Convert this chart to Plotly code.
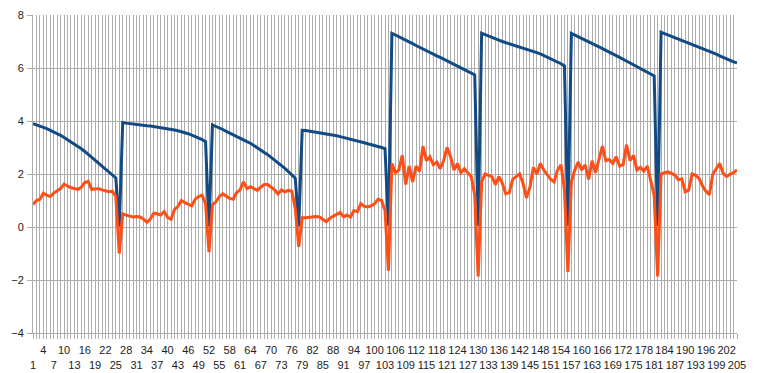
import plotly.graph_objects as go

# Categories 1..205
categories = list(range(1, 206))

# Tick labels: every 3rd category, alternating two rows (bottom row: 1,7,13...; top row: 4,10,16...)
label_bottom_row = list(range(1, 206, 6))
label_top_row = list(range(4, 206, 6))

blue_values = [
    # 1-26
    3.90, 3.86, 3.81, 3.76, 3.71, 3.65, 3.60, 3.53, 3.46, 3.38,
    3.30, 3.22, 3.12, 3.04, 2.95, 2.85, 2.74, 2.64, 2.53, 2.42,
    2.32, 2.21, 2.10, 1.98, 1.85, 0.02,
    # 27-52
    3.94, 3.92, 3.90, 3.89, 3.87, 3.86, 3.84, 3.82, 3.81, 3.79,
    3.78, 3.76, 3.74, 3.72, 3.69, 3.66, 3.63, 3.60, 3.56, 3.52,
    3.47, 3.42, 3.37, 3.30, 3.22, 0.02,
    # 53-78
    3.85, 3.80, 3.74, 3.68, 3.61, 3.54, 3.47, 3.41, 3.35, 3.29,
    3.22, 3.16, 3.08, 3.00, 2.91, 2.82, 2.73, 2.63, 2.53, 2.43,
    2.33, 2.21, 2.09, 1.97, 1.84, 0.02,
    # 79-104
    3.65, 3.64, 3.62, 3.60, 3.58, 3.56, 3.54, 3.52, 3.50, 3.47,
    3.44, 3.41, 3.38, 3.35, 3.32, 3.28, 3.25, 3.21, 3.18, 3.14,
    3.11, 3.07, 3.03, 3.00, 2.96, 0.05,
    # 105-130
    7.31, 7.25, 7.18, 7.12, 7.05, 6.98, 6.92, 6.85, 6.78, 6.72,
    6.66, 6.59, 6.53, 6.46, 6.40, 6.33, 6.27, 6.20, 6.13, 6.07,
    6.00, 5.94, 5.87, 5.81, 5.74, 0.05,
    # 131-156
    7.31, 7.26, 7.20, 7.15, 7.10, 7.05, 7.00, 6.96, 6.92, 6.88,
    6.84, 6.80, 6.76, 6.72, 6.68, 6.63, 6.58, 6.53, 6.47, 6.42,
    6.36, 6.30, 6.23, 6.16, 6.08, 0.05,
    # 157-182
    7.31, 7.25, 7.18, 7.12, 7.05, 6.99, 6.92, 6.86, 6.80, 6.73,
    6.67, 6.60, 6.54, 6.47, 6.40, 6.33, 6.26, 6.19, 6.12, 6.05,
    5.98, 5.91, 5.84, 5.77, 5.70, 0.05,
    # 183-205
    7.35, 7.30, 7.25, 7.20, 7.15, 7.10, 7.05, 7.00, 6.95, 6.90,
    6.85, 6.80, 6.75, 6.70, 6.64, 6.58, 6.52, 6.46, 6.40, 6.34,
    6.28, 6.23, 6.20,
]

orange_values = [
    # 1-26
    0.85, 1.00, 1.05, 1.27, 1.20, 1.15, 1.28, 1.35, 1.45, 1.62,
    1.55, 1.48, 1.45, 1.42, 1.50, 1.68, 1.72, 1.42, 1.43, 1.45,
    1.40, 1.35, 1.33, 1.35, 1.15, -1.00,
    # 27-52
    0.50, 0.45, 0.40, 0.38, 0.40, 0.38, 0.30, 0.18, 0.30, 0.52,
    0.50, 0.45, 0.58, 0.36, 0.29, 0.66, 0.78, 1.00, 0.92, 0.85,
    0.80, 1.05, 1.15, 1.20, 0.88, -0.95,
    # 53-78
    0.85, 0.95, 1.15, 1.25, 1.15, 1.08, 1.05, 1.30, 1.40, 1.70,
    1.45, 1.52, 1.45, 1.38, 1.50, 1.60, 1.60, 1.50, 1.40, 1.25,
    1.40, 1.33, 1.38, 1.35, 0.70, -0.75,
    # 79-104
    0.35, 0.35, 0.37, 0.40, 0.40, 0.38, 0.30, 0.20, 0.33, 0.40,
    0.45, 0.55, 0.38, 0.45, 0.37, 0.62, 0.58, 0.88, 0.78, 0.76,
    0.80, 0.88, 1.05, 1.00, 0.62, -1.65,
    # 105-130
    2.40, 2.05, 2.15, 2.70, 1.60, 2.30, 1.70, 2.30, 2.10, 3.05,
    2.50, 2.65, 2.35, 2.45, 2.20, 2.50, 3.00, 2.65, 2.15, 2.40,
    2.05, 2.20, 2.05, 1.90, 1.20, -1.87,
    # 131-156
    1.70, 2.00, 1.95, 1.90, 1.60, 1.90, 1.65, 1.25, 1.30, 1.80,
    1.90, 2.00, 1.65, 1.10, 1.50, 2.25, 2.00, 2.40, 2.15, 1.95,
    1.80, 1.70, 2.15, 2.35, 1.40, -1.70,
    # 157-182
    1.70, 2.15, 2.45, 2.15, 2.35, 1.80, 2.50, 2.05, 2.50, 3.05,
    2.50, 2.55, 2.40, 2.65, 2.30, 2.35, 3.10, 2.50, 2.70, 2.15,
    2.25, 2.10, 2.30, 1.75, 1.20, -1.87,
    # 183-205
    2.00, 2.05, 2.08, 2.02, 1.96, 1.78, 1.82, 1.33, 1.40, 2.00,
    1.95, 1.83, 1.55, 1.35, 1.22, 2.00, 2.20, 2.40, 2.02, 1.90,
    2.00, 2.05, 2.15,
]

y_tick_values = [-4, -2, 0, 2, 4, 6, 8]

BLUE = "#124A85"
ORANGE = "#FF4E16"
GRID = "#ADADAD"
TEXT = "#222222"

ticktext = []
for c in categories:
    if c in label_bottom_row:
        ticktext.append("<br>" + str(c))
    elif c in label_top_row:
        ticktext.append(str(c))
    else:
        ticktext.append("")

fig = go.Figure()
fig.add_trace(go.Scatter(x=categories, y=blue_values, mode="lines",
                         line=dict(color=BLUE, width=3), hoverinfo="skip"))
fig.add_trace(go.Scatter(x=categories, y=orange_values, mode="lines",
                         line=dict(color=ORANGE, width=3), hoverinfo="skip"))

fig.update_layout(
    width=759, height=373,
    margin=dict(l=33, r=22, t=15, b=40),
    paper_bgcolor="white", plot_bgcolor="white",
    showlegend=False,
    font=dict(family="Liberation Sans, Arial, sans-serif", size=11, color=TEXT),
    xaxis=dict(
        range=[1, 205], tickmode="array", tickvals=categories, ticktext=ticktext,
        tickangle=0, showgrid=True, gridcolor=GRID, gridwidth=1,
        ticks="outside", ticklen=5, tickcolor=GRID, tickwidth=1,
        showline=True, linecolor=GRID, linewidth=1, zeroline=False,
        tickfont=dict(size=11, color=TEXT), automargin=False,
        ticklabelstandoff=2,
    ),
    yaxis=dict(
        range=[-4, 8], tickmode="array", tickvals=y_tick_values,
        showgrid=True, gridcolor=GRID, gridwidth=1,
        ticks="outside", ticklen=5, tickcolor=GRID, tickwidth=1,
        showline=True, linecolor=GRID, linewidth=1, zeroline=False,
        tickfont=dict(size=11, color=TEXT), automargin=False,
        ticklabelstandoff=1,
    ),
)

fig.write_html(
    "out.html",
    config={"displayModeBar": False, "staticPlot": True},
    post_script="document.body.style.margin='0';document.body.style.padding='0';",
)
